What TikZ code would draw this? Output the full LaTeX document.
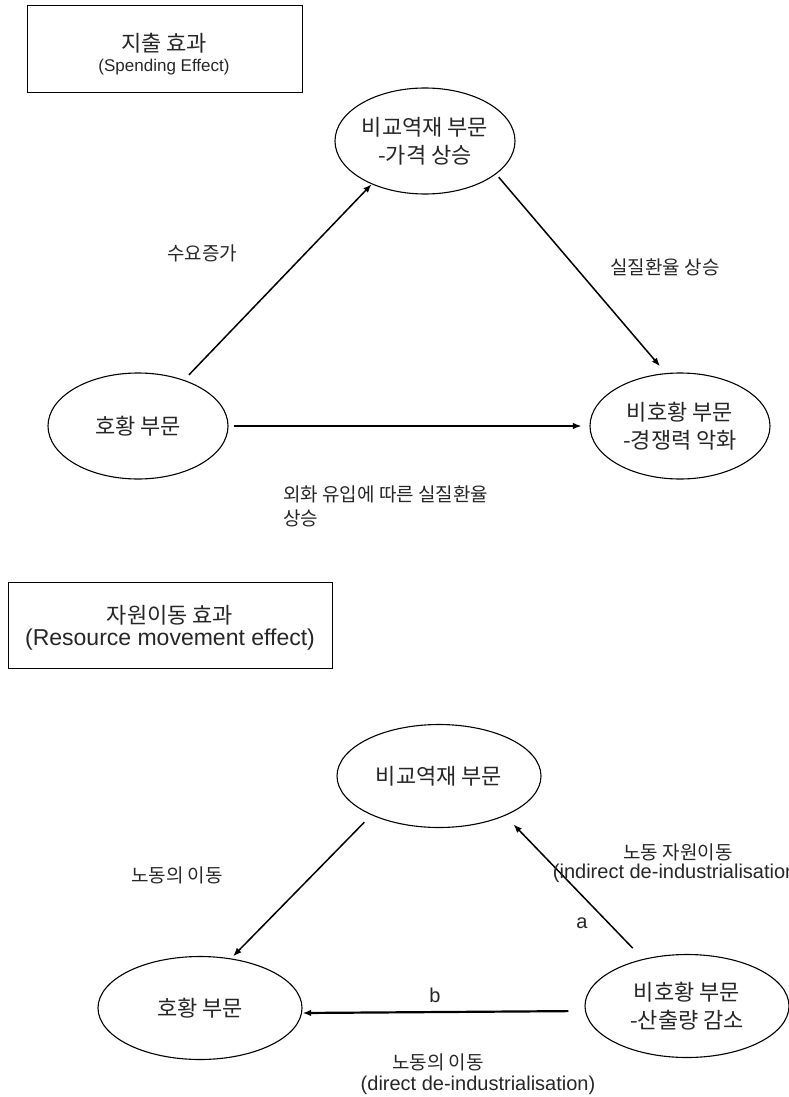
\documentclass[tikz,border=0pt]{standalone}
\usepackage{fontspec}
\setmainfont{Liberation Sans}
\newfontfamily\kr{Noto Sans CJK KR}
\usetikzlibrary{shapes.geometric,arrows.meta}

\begin{document}
\begin{tikzpicture}[x=1pt,y=-1pt,
  every node/.style={text=black!85},
  sector/.style={draw=black,ellipse,line width=1.1pt,inner sep=0pt,align=center,
    font=\kr\fontsize{22}{28}\selectfont},
  topsector/.style={sector,minimum width=180pt,minimum height=106pt},
  lowsector/.style={sector,minimum width=204pt,minimum height=103pt},
  titlebox/.style={draw=black,line width=0.9pt,inner sep=0pt},
  krlabel/.style={font=\kr\fontsize{19}{24}\selectfont,align=center,inner sep=0pt},
  latlabel/.style={font=\fontsize{20}{24}\selectfont,inner sep=0pt},
  flow/.style={draw=black,line width=1.5pt,-{Latex[length=8.5pt,width=6.5pt]}}
]
\useasboundingbox (0,0) rectangle (789,1097);
\clip (0,0) rectangle (789,1097);

% ---------- spending effect ----------
\node[titlebox,minimum width=275pt,minimum height=87pt] (box1) at (164.5,48.5) {};
\node[font=\kr\fontsize{22}{26}\selectfont,inner sep=0pt] (box1a) at (164,43) {지출 효과};
\node[font=\fontsize{17}{20}\selectfont,inner sep=0pt] (box1b) at (164,67) {(Spending Effect)};

\node[topsector] (nt1) at (425,141) {비교역재 부문\\-가격 상승};
\node[topsector] (hw1) at (138,426) {호황 부문};
\node[topsector] (nh1) at (680,426) {비호황 부문\\-경쟁력 악화};

\draw[flow,shorten <=7pt] (hw1.45) -- (nt1.219);
\draw[flow,shorten <=4pt,shorten >=9pt] (nt1.-25) -- (nh1.105);
\draw[flow,shorten <=5pt,shorten >=8pt] (hw1.east) -- (nh1.west);

\node[krlabel] (d1) at (202,253) {수요증가};
\node[krlabel] (d2) at (665,267) {실질환율 상승};
\node[krlabel,align=left,anchor=west] (d3) at (283,506) {외화 유입에 따른 실질환율\\상승};

% ---------- resource movement effect ----------
\node[titlebox,minimum width=324pt,minimum height=86pt] (box2) at (170,625) {};
\node[font=\kr\fontsize{22}{26}\selectfont,inner sep=0pt] (box2a) at (170,615) {자원이동 효과};
\node[font=\fontsize{23}{26}\selectfont,inner sep=0pt] (box2b) at (170,640) {(Resource movement effect)};

\node[lowsector] (nt2) at (439,776) {비교역재 부문};
\node[lowsector] (hw2) at (200,1008) {호황 부문};
\node[lowsector] (nh2) at (687,1006) {비호황 부문\\-산출량 감소};

\draw[flow,shorten <=10pt,shorten >=3pt] (nt2.210) -- (hw2.58);
\draw[flow,shorten <=15pt,shorten >=12pt] (nh2.133) -- (nt2.-31);
\draw[flow,line width=2.2pt,shorten <=16pt] ([yshift=-5pt]nh2.west) -- ([yshift=-5pt]hw2.east);

\node[krlabel] (m1) at (177,875) {노동의 이동};
\node[latlabel] (ma) at (582,923) {a};
\node[latlabel] (mb) at (435,995) {b};
\node[krlabel,font=\kr\fontsize{19}{20}\selectfont] (m2) at (678,852) {노동 자원이동};
\node[latlabel] (m2b) at (678,873) {(indirect de-industrialisation)};
\node[krlabel] (m3) at (438,1062) {노동의 이동};
\node[latlabel] (m3b) at (478,1085) {(direct de-industrialisation)};
\end{tikzpicture}
\end{document}
